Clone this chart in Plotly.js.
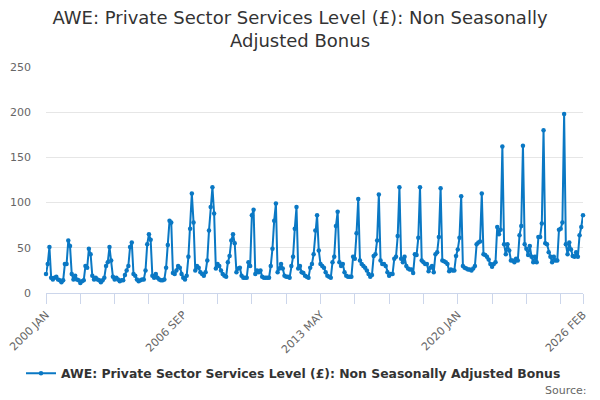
<!DOCTYPE html>
<html>
<head>
<meta charset="utf-8">
<script src="https://cdn.plot.ly/plotly-3.0.1.min.js"></script>
<style>
  html, body { margin: 0; padding: 0; background: #fff; }
  #gd { width: 600px; height: 400px; }
</style>
</head>
<body>
<div id="gd"></div>
<script>
// monthly values, one row per year (JAN..DEC)
var startYear = 2000;
var months = ["JAN", "FEB", "MAR", "APR", "MAY", "JUN", "JUL", "AUG", "SEP", "OCT", "NOV", "DEC"];
var bonus = [
  21, 32, 51, 17, 15, 17, 18, 15, 14, 12, 14, 32,     // 2000
  32, 58, 52, 21, 15, 19, 15, 14, 11, 13, 14, 30,     // 2001
  28, 49, 43, 19, 15, 17, 15, 14, 12, 14, 17, 30,     // 2002
  34, 51, 36, 18, 15, 17, 15, 13, 14, 14, 20, 25,     // 2003
  30, 51, 56, 21, 19, 15, 13, 14, 15, 15, 25, 54,     // 2004
  65, 59, 19, 17, 21, 17, 15, 14, 14, 15, 28, 53,     // 2005
  80, 78, 22, 21, 25, 30, 28, 21, 17, 15, 19, 40,     // 2006
  71, 110, 78, 25, 30, 28, 23, 21, 19, 23, 36, 69,    // 2007
  95, 117, 88, 27, 32, 30, 25, 21, 19, 18, 34, 41,    // 2008
  58, 65, 55, 23, 27, 28, 19, 17, 17, 17, 34, 30,     // 2009
  86, 92, 21, 25, 23, 25, 18, 17, 17, 17, 17, 30,     // 2010
  49, 80, 99, 23, 27, 32, 27, 19, 18, 18, 17, 30,     // 2011
  40, 71, 95, 27, 30, 23, 22, 19, 18, 17, 28, 32,     // 2012
  43, 69, 86, 47, 32, 30, 28, 23, 19, 18, 17, 34,     // 2013
  40, 74, 90, 34, 30, 32, 23, 19, 18, 18, 18, 40,     // 2014
  38, 66, 104, 36, 32, 30, 28, 25, 21, 18, 20, 41,    // 2015
  43, 58, 109, 36, 32, 32, 30, 23, 19, 21, 21, 38,    // 2016
  40, 63, 117, 38, 34, 40, 30, 27, 26, 26, 22, 43,    // 2017
  42, 61, 117, 36, 34, 32, 32, 24, 28, 30, 23, 43,    // 2018
  45, 62, 116, 36, 35, 34, 32, 24, 26, 25, 25, 41,    // 2019
  48, 61, 107, 30, 28, 27, 26, 26, 25, 27, 30, 54,    // 2020
  56, 57, 110, 43, 42, 40, 37, 32, 29, 32, 34, 73,    // 2021
  65, 70, 162, 54, 43, 54, 47, 36, 36, 34, 38, 36,    // 2022
  64, 74, 163, 54, 49, 42, 52, 40, 34, 40, 34, 62,    // 2023
  62, 77, 180, 55, 54, 45, 40, 34, 40, 36, 36, 70,    // 2024
  71, 78, 198, 54, 43, 56, 48, 41, 40, 45, 40, 64,    // 2025
  73, 86                                              // 2026
];
var tickLabels = ["2000 JAN", "2006 SEP", "2013 MAY", "2020 JAN", "2026 FEB"];
var yTicks = [0, 50, 100, 150, 200, 250];

var seriesName = "AWE: Private Sector Services Level (£): Non Seasonally Adjusted Bonus";
var blue = "#0a78c4";

// category labels like "2000 JAN"
var periods = [];
for (var i = 0; i < bonus.length; i++) {
  periods.push((startYear + Math.floor(i / 12)) + " " + months[i % 12]);
}

// a tick every 20 months plus the last one, text only on the labelled ones
var tickvals = [], ticktext = [];
for (var k = 0; k < periods.length; k += 20) {
  tickvals.push(periods[k]);
}
tickvals.push(periods[periods.length - 1]);
tickvals.forEach(function (p) {
  ticktext.push(tickLabels.indexOf(p) >= 0 ? p : "");
});

var data = [{
  x: periods,
  y: bonus,
  name: seriesName,
  type: "scatter",
  mode: "lines+markers",
  line: {color: blue, width: 2},
  marker: {color: blue, size: 4.5},
  cliponaxis: false,
  showlegend: true
}];

var layout = {
  width: 600,
  height: 400,
  margin: {l: 46, r: 17, t: 67, b: 107},
  paper_bgcolor: "#ffffff",
  plot_bgcolor: "#ffffff",
  font: {family: "DejaVu Sans", color: "#666666", size: 11},
  title: {
    text: "AWE: Private Sector Services Level (£): Non Seasonally<br>Adjusted Bonus",
    font: {family: "DejaVu Sans", size: 18, color: "#333333"},
    x: 0.5,
    xref: "container",
    y: 0.94,
    yref: "container",
    yanchor: "top"
  },
  xaxis: {
    type: "category",
    range: [0, periods.length - 1],
    tickmode: "array",
    tickvals: tickvals,
    ticktext: ticktext,
    tickangle: -45,
    ticks: "outside",
    ticklen: 10,
    tickcolor: "#ccd6eb",
    showline: true,
    linecolor: "#ccd6eb",
    linewidth: 1,
    showgrid: false,
    zeroline: false,
    tickfont: {size: 11, color: "#666666"}
  },
  yaxis: {
    range: [0, 250],
    tickmode: "array",
    tickvals: yTicks,
    showgrid: true,
    gridcolor: "#e6e6e6",
    zeroline: false,
    showline: false,
    ticklabelstandoff: 14,
    tickfont: {size: 11, color: "#666666"}
  },
  showlegend: true,
  legend: {
    orientation: "h",
    x: 0.035,
    xref: "container",
    xanchor: "left",
    y: 0.066,
    yref: "container",
    yanchor: "middle",
    itemwidth: 30,
    font: {family: "DejaVu Sans", size: 12.4, color: "#333333", weight: "bold"}
  },
  annotations: [{
    text: "Source:",
    xref: "paper",
    yref: "paper",
    x: 1.012,
    y: -0.43,
    xanchor: "right",
    yanchor: "middle",
    showarrow: false,
    font: {family: "DejaVu Sans", size: 11, color: "#666666"}
  }]
};

Plotly.newPlot("gd", data, layout, {displayModeBar: false, staticPlot: true});
</script>
</body>
</html>
